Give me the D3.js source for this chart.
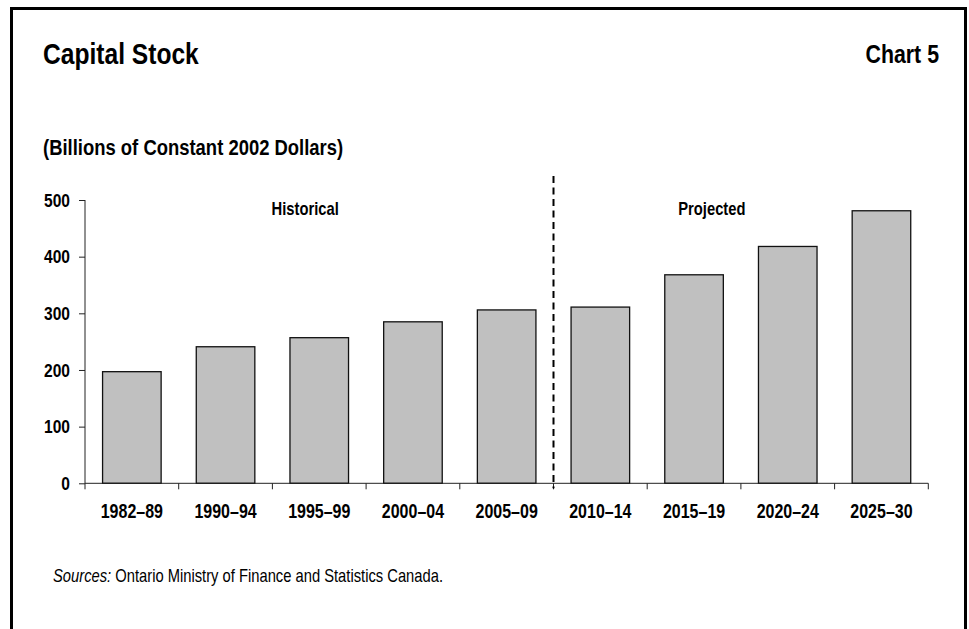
<!DOCTYPE html>
<html>
<head>
<meta charset="utf-8">
<script src="https://cdn.jsdelivr.net/npm/d3@7"></script>
<style>
  body { margin: 0; background: #fff; }
  svg text { font-family: "Liberation Sans", Arial, sans-serif; fill: #000; }
</style>
</head>
<body>
<div id="chart"></div>
<script>
// Capital stock, billions of constant 2002 dollars
const categories = ["1982–89", "1990–94", "1995–99", "2000–04", "2005–09", "2010–14", "2015–19", "2020–24", "2025–30"];
const values = [197, 241, 257, 285, 306, 311, 368, 418, 481];
const yTicks = [0, 100, 200, 300, 400, 500];
const splitAfter = "2005–09"; // last historical period

const W = 969, H = 629;
const margin = { left: 85, right: 40, top: 200, bottom: 146 };
const NARROW = 0.82; // no Arial Narrow installed, so squeeze Liberation Sans

// squeeze text horizontally round its anchor point
function narrow(sel) {
    sel.each(function() {
        const t = d3.select(this);
        const tx = +t.attr("x") || 0, ty = +t.attr("y") || 0;
        t.attr("x", 0).attr("y", 0)
            .attr("transform", `translate(${tx},${ty}) scale(${NARROW},1)`);
    });
}

const svg = d3.select("#chart")
    .append("svg")
    .attr("width", W)
    .attr("height", H);

// Frame round the chart (bottom edge falls outside the picture)
svg.append("path")
    .attr("d", `M11.5,${H + 10} V8.5 H965.5 V${H + 10}`)
    .attr("fill", "none")
    .attr("stroke", "#000")
    .attr("stroke-width", 3);

// Titles
svg.append("text")
    .attr("x", 43).attr("y", 64)
    .style("font-size", "30px").style("font-weight", "bold")
    .text("Capital Stock")
    .call(narrow);

svg.append("text")
    .attr("x", 939).attr("y", 63)
    .attr("text-anchor", "end")
    .style("font-size", "26px").style("font-weight", "bold")
    .text("Chart 5")
    .call(narrow);

svg.append("text")
    .attr("x", 43).attr("y", 155)
    .style("font-size", "22.5px").style("font-weight", "bold")
    .text("(Billions of Constant 2002 Dollars)")
    .call(narrow);

// Scales
const x = d3.scaleBand()
    .domain(categories)
    .range([margin.left, W - margin.right - 0.7])
    .paddingInner(0.375)
    .paddingOuter(0.1875);

const y = d3.scaleLinear()
    .domain([0, 500])
    .range([H - margin.bottom + 0.3, margin.top]);

const step = x.step();
const boundary = i => margin.left + i * step;

// Y axis
svg.append("g")
    .attr("transform", `translate(${margin.left},0)`)
    .call(d3.axisLeft(y).tickValues(yTicks).tickSize(6).tickPadding(9))
    .call(g => g.selectAll("line, path").attr("stroke", "#222"))
    .call(g => g.select(".domain").attr("d", `M0,${y(0)}V${y(500)}`))
    .selectAll("text")
    .style("font-size", "19px").style("font-weight", "bold")
    .attr("y", 0)
    .call(narrow);

// Bars
svg.append("g")
    .selectAll("rect")
    .data(values)
    .join("rect")
    .attr("x", (d, i) => x(categories[i]))
    .attr("y", d => y(d))
    .attr("width", x.bandwidth())
    .attr("height", d => y(0) - y(d))
    .attr("fill", "#c0c0c0")
    .attr("stroke", "#111")
    .attr("stroke-width", 1.3);

// X axis: baseline with ticks between the periods
const xAxis = svg.append("g");
xAxis.append("line")
    .attr("x1", margin.left).attr("x2", boundary(categories.length))
    .attr("y1", y(0)).attr("y2", y(0))
    .attr("stroke", "#222");
xAxis.selectAll(".tick")
    .data(d3.range(categories.length + 1))
    .join("line")
    .attr("class", "tick")
    .attr("x1", i => boundary(i)).attr("x2", i => boundary(i))
    .attr("y1", y(0)).attr("y2", y(0) + 6)
    .attr("stroke", "#222");
xAxis.selectAll("text")
    .data(categories)
    .join("text")
    .attr("x", d => x(d) + x.bandwidth() / 2)
    .attr("y", y(0) + 35)
    .attr("text-anchor", "middle")
    .style("font-size", "19.5px").style("font-weight", "bold")
    .text(d => d)
    .call(narrow);

// Dashed divider between historical and projected
const splitX = boundary(categories.indexOf(splitAfter) + 1);
svg.append("line")
    .attr("x1", splitX).attr("x2", splitX)
    .attr("y1", 176).attr("y2", y(0) + 5)
    .attr("stroke", "#000")
    .attr("stroke-width", 2)
    .attr("stroke-dasharray", "7,4.5");

svg.append("text")
    .attr("x", boundary(2.35)).attr("y", 215)
    .attr("text-anchor", "middle")
    .style("font-size", "18px").style("font-weight", "bold")
    .text("Historical")
    .call(narrow);

svg.append("text")
    .attr("x", boundary(6.69)).attr("y", 215)
    .attr("text-anchor", "middle")
    .style("font-size", "18px").style("font-weight", "bold")
    .text("Projected")
    .call(narrow);

// Source note
const src = svg.append("text")
    .attr("x", 53).attr("y", 582)
    .style("font-size", "18px");
src.append("tspan").style("font-style", "italic").text("Sources:");
src.append("tspan").text(" Ontario Ministry of Finance and Statistics Canada.");
src.call(narrow);
</script>
</body>
</html>
